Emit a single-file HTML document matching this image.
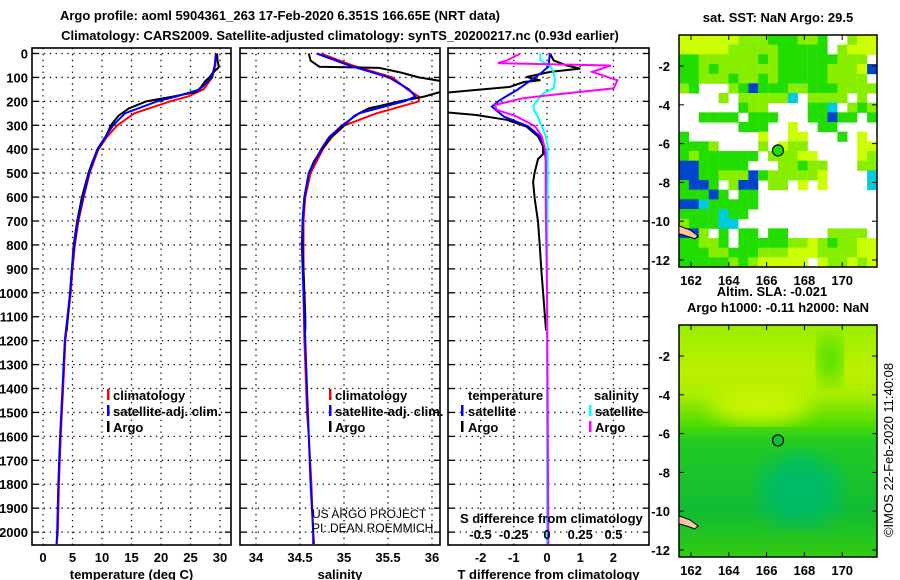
<!DOCTYPE html>
<html><head><meta charset="utf-8"><style>
html,body{margin:0;padding:0;background:#fff;width:900px;height:580px;overflow:hidden}
svg{display:block}
text{font-family:"Liberation Sans",sans-serif;font-weight:bold;font-size:13px;fill:#000}
</style></head><body>
<svg id="chart" width="900" height="580" viewBox="0 0 900 580">
<text x="280" y="20" text-anchor="middle" font-size="14">Argo profile: aoml 5904361_263 17-Feb-2020 6.351S 166.65E (NRT data)</text>
<text x="340" y="40" text-anchor="middle" font-size="14">Climatology: CARS2009. Satellite-adjusted climatology: synTS_20200217.nc (0.93d earlier)</text>
<g id="panels"></g>
<g id="maps"></g>
<text transform="translate(893,450) rotate(-90)" text-anchor="middle" font-size="12" font-weight="normal" style="font-weight:normal">©IMOS 22-Feb-2020 11:40:08</text>
</svg>
<script>
// ---- data ----
const depthTicks = [0,100,200,300,400,500,600,700,800,900,1000,1100,1200,1300,1400,1500,1600,1700,1800,1900,2000];
const tempTicks = [0,5,10,15,20,25,30];
const salTicks = [34,34.5,35,35.5,36];
const tdiffTicks = [-2,-1,0,1,2];
const sdiffTicks = [-0.5,-0.25,0,0.25,0.5];
const sdiffLabels = ["-0.5","-0.25","0","0.25","0.5"];

const climDepth = [0,50,100,150,180,200,250,300,350,400,500,600,700,800,900,1000,1200,1400,1500,1600,1800,2000,2050];
const tempClim = [29.4,29.2,28.7,27.2,24.5,21.5,15.5,12.6,10.8,9.4,7.9,6.9,6.0,5.4,5.0,4.7,3.8,3.4,3.2,3.0,2.7,2.5,2.3];
const tempSat  = [29.3,29.1,28.6,26.6,22.5,19.3,13.9,11.9,10.5,9.2,7.8,6.8,5.9,5.3,4.9,4.6,3.7,3.3,3.1,2.9,2.6,2.4,2.3];
const salClim  = [34.74,35.1,35.55,35.72,35.85,35.85,35.37,35.01,34.86,34.76,34.62,34.56,34.54,34.54,34.54,34.54,34.55,34.57,34.58,34.6,34.63,34.65,34.66];
const salSat   = [34.69,35.06,35.51,35.74,35.81,35.68,35.17,34.98,34.83,34.74,34.6,34.55,34.53,34.52,34.53,34.54,34.56,34.58,34.59,34.6,34.62,34.65,34.65];

const argoDepth = [0,30,55,60,80,100,115,140,160,180,200,230,260,300,350,400,450,500,600,700,800,900,1000,1100,1160];
const tempArgo  = [29.5,29.6,29.8,29.7,28.8,28.2,27.5,26.8,26,22,17.5,14.5,12.8,11.5,10.6,9.3,8.4,7.7,6.6,5.8,5.2,4.9,4.6,4.2,4.0];
const salArgo   = [34.6,34.62,34.72,35.4,35.65,35.85,36.1,36.3,36.1,35.91,35.63,35.28,35.12,35.0,34.85,34.75,34.66,34.6,34.55,34.53,34.53,34.54,34.55,34.56,34.56];

const tdDepth = [0,29,50,63,77,98,112,119,140,153,167,243,257,277,305,346,387,421,441,496,537,606,702,799,909,1047,1157];
const tdArgo  = [0.09,0.2,0.6,1.0,0.1,-0.62,-0.2,-0.7,-1.13,-2.2,-3.3,-3.3,-2.13,-1.22,-0.62,-0.27,-0.12,-0.12,-0.27,-0.37,-0.42,-0.37,-0.27,-0.22,-0.17,-0.09,-0.03];
const tdsDepth = [0,55,84,153,194,222,263,305,346,387,496,1000,2050];
const tdSat    = [0.09,0.04,-0.2,-0.91,-1.41,-1.66,-1.31,-0.56,-0.22,-0.08,0,0,0];
const sdDepth  = [0,29,40,50,77,112,146,174,187,215,235,263,304,346,387,413,600,1000,1500,2050];
const sdArgo   = [-0.2,-0.3,-0.37,0.48,0.34,0.53,0.5,0.02,-0.18,-0.39,-0.38,-0.23,-0.09,-0.04,-0.02,-0.01,-0.01,0,0.005,0.01];
const sdsDepth = [0,29,50,77,112,146,167,187,215,235,263,304,346,387,500,1000,2050];
const sdSat    = [-0.05,-0.05,0.02,0.05,0.06,0.05,-0.03,-0.06,-0.1,-0.1,-0.07,-0.04,-0.01,0.005,0.005,0,0];

// ---- helpers ----
const NS = "http://www.w3.org/2000/svg";
const panelsG = document.getElementById('panels');
const Y0 = 53.5, YS = 0.2393, YTOP = 48, YBOT = 545;
function yD(d){ return Y0 + d*YS; }
function mk(tag, parent){ const e = document.createElementNS(NS, tag); parent.appendChild(e); return e; }
const xT = v => 43 + v*5.9;
const xS = v => 256 + (v-34)*88;
const xTd = v => 547 + v*33.2;
const xSd = v => 547 + v*133;

function frame(x0, x1, name, xticks, xfn, labels, title, showDepth){
  const g = mk('g', panelsG);
  
  
  const cp = mk('clipPath', g); cp.setAttribute('id', 'clip-' + name);
  const cr = mk('rect', cp); cr.setAttribute('x', x0); cr.setAttribute('y', YTOP); cr.setAttribute('width', x1-x0); cr.setAttribute('height', YBOT-YTOP);
  depthTicks.forEach(d => {
    const l = mk('line', g);
    
    
    l.setAttribute('x1', x0); l.setAttribute('x2', x1); l.setAttribute('y1', yD(d)); l.setAttribute('y2', yD(d));
    l.setAttribute('stroke', '#000'); l.setAttribute('stroke-width', 1.3); l.setAttribute('stroke-dasharray', '1.3 4.6');
    [[x0, x0+6],[x1-6, x1]].forEach(p => { const t = mk('line', g); t.setAttribute('x1',p[0]); t.setAttribute('x2',p[1]); t.setAttribute('y1',yD(d)); t.setAttribute('y2',yD(d)); t.setAttribute('stroke','#000'); t.setAttribute('stroke-width',1.3); });
    if (showDepth){
      const t = mk('text', g);
      
      
      t.setAttribute('x', 28); t.setAttribute('y', yD(d)+5); t.setAttribute('text-anchor', 'end'); t.textContent = d;
    }
  });
  xticks.forEach((v, i) => {
    const x = xfn(v);
    const l = mk('line', g);
    
    
    l.setAttribute('x1', x); l.setAttribute('x2', x); l.setAttribute('y1', YTOP); l.setAttribute('y2', YBOT);
    l.setAttribute('stroke', '#000'); l.setAttribute('stroke-width', 1.3); l.setAttribute('stroke-dasharray', '1.3 4.6');
    const t = mk('text', g);
    
    
    t.setAttribute('x', x); t.setAttribute('y', 562); t.setAttribute('text-anchor', 'middle'); t.textContent = labels[i];
  });
  const r = mk('rect', g);
  r.setAttribute('x', x0); r.setAttribute('y', YTOP); r.setAttribute('width', x1-x0); r.setAttribute('height', YBOT-YTOP);
  r.setAttribute('fill', 'none'); r.setAttribute('stroke', '#000'); r.setAttribute('stroke-width', 1.6);
  const at = mk('text', g);
  
  
  at.setAttribute('x', (x0+x1)/2); at.setAttribute('y', 579); at.setAttribute('text-anchor', 'middle'); at.textContent = title;
  return g;
}
function line(g, clipName, depths, vals, xfn, color, w, name){
  const p = mk('polyline', g);
  
  
  p.setAttribute('points', depths.map((d,i) => xfn(vals[i]).toFixed(1) + ',' + yD(d).toFixed(1)).join(' '));
  p.setAttribute('fill', 'none'); p.setAttribute('stroke', color); p.setAttribute('stroke-width', w);
  p.setAttribute('clip-path', 'url(#clip-' + clipName + ')');
}
function txt(g, x, y, s, name, extra){
  const t = mk('text', g);
  
  
  t.setAttribute('x', x); t.setAttribute('y', y); t.textContent = s;
  if (extra) t.setAttribute('style', extra);
  return t;
}
function mark(g, x, y, color){
  const r = mk('rect', g);
  
  
  r.setAttribute('x', x); r.setAttribute('y', y-11); r.setAttribute('width', 2.5); r.setAttribute('height', 11); r.setAttribute('fill', color);
}

// Panel 1: temperature
const g1 = frame(32, 231, 'temperature-panel', tempTicks, xT, tempTicks.map(String), 'temperature (deg C)', true);
line(g1, 'temperature-panel', climDepth, tempClim, xT, '#f00', 2, 'temp-climatology-line');
line(g1, 'temperature-panel', argoDepth, tempArgo, xT, '#000', 2, 'temp-argo-line');
line(g1, 'temperature-panel', climDepth, tempSat, xT, '#00f', 2, 'temp-satellite-line');
mark(g1, 107, 400, '#f00'); txt(g1, 113, 400, 'climatology', 'legend-climatology');
mark(g1, 107, 416, '#00f'); txt(g1, 113, 416, 'satellite-adj. clim.', 'legend-satellite');
mark(g1, 107, 432, '#000'); txt(g1, 113, 432, 'Argo', 'legend-argo');

// Panel 2: salinity
const g2 = frame(240, 440, 'salinity-panel', salTicks, xS, salTicks.map(String), 'salinity', false);
line(g2, 'salinity-panel', climDepth, salClim, xS, '#f00', 2, 'sal-climatology-line');
line(g2, 'salinity-panel', argoDepth, salArgo, xS, '#000', 2, 'sal-argo-line');
line(g2, 'salinity-panel', climDepth, salSat, xS, '#00f', 2, 'sal-satellite-line');
mark(g2, 329, 400, '#f00'); txt(g2, 335, 400, 'climatology', 'legend-climatology');
mark(g2, 329, 416, '#00f'); txt(g2, 335, 416, 'satellite-adj. clim.', 'legend-satellite');
mark(g2, 329, 432, '#000'); txt(g2, 335, 432, 'Argo', 'legend-argo');
txt(g2, 312, 518, 'US ARGO PROJECT', 'project-credit', 'font-weight:normal;font-size:12px');
txt(g2, 312, 532, 'PI: DEAN ROEMMICH', 'pi-credit', 'font-weight:normal;font-size:12px');

// Panel 3: differences
const g3 = frame(448, 649, 'difference-panel', tdiffTicks, xTd, tdiffTicks.map(String), 'T difference from climatology', false);
line(g3, 'difference-panel', tdDepth, tdArgo, xTd, '#000', 2, 'tdiff-argo-line');
line(g3, 'difference-panel', tdsDepth, tdSat, xTd, '#00f', 2, 'tdiff-satellite-line');
line(g3, 'difference-panel', sdsDepth, sdSat, xSd, '#0ff', 2, 'sdiff-satellite-line');
line(g3, 'difference-panel', sdDepth, sdArgo, xSd, '#f0f', 2, 'sdiff-argo-line');
txt(g3, 468, 400, 'temperature', 'legend-temperature-heading');
txt(g3, 594, 400, 'salinity', 'legend-salinity-heading');
mark(g3, 461, 416, '#00f'); txt(g3, 468, 416, 'satellite', 'legend-t-satellite');
mark(g3, 461, 432, '#000'); txt(g3, 468, 432, 'Argo', 'legend-t-argo');
mark(g3, 589, 416, '#0ff'); txt(g3, 595, 416, 'satellite', 'legend-s-satellite');
mark(g3, 589, 432, '#f0f'); txt(g3, 595, 432, 'Argo', 'legend-s-argo');
txt(g3, 460, 523, 'S difference from climatology', 's-diff-axis-title');
sdiffTicks.forEach((v, i) => {
  const t = txt(g3, xSd(v), 539, sdiffLabels[i], 's-diff-tick-label');
  t.setAttribute('text-anchor', 'middle');
});

// ---- maps ----
const mapsG = document.getElementById('maps');
const lonTicks = [162,164,166,168,170];
const latTicks = [-2,-4,-6,-8,-10,-12];
const xLon = v => 691 + (v-162)*18.9;
function drawMap(y0, latY, name, title, bodyFn, titleLines){
  const g = mk('g', mapsG);
  
  
  bodyFn(g);
  const r = mk('rect', g);
  r.setAttribute('x', 679); r.setAttribute('y', y0); r.setAttribute('width', 198); r.setAttribute('height', 232);
  r.setAttribute('fill', 'none'); r.setAttribute('stroke', '#000'); r.setAttribute('stroke-width', 1.5);
  latTicks.forEach(v => {
    const y = latY(v);
    const t = txt(g, 670, y+5, String(v), 'lat-tick-label'); t.setAttribute('text-anchor', 'end');
    [[679,684],[872,877]].forEach(p => { const l = mk('line', g); l.setAttribute('x1',p[0]); l.setAttribute('x2',p[1]); l.setAttribute('y1',y); l.setAttribute('y2',y); l.setAttribute('stroke','#000'); });
  });
  lonTicks.forEach(v => {
    const x = xLon(v);
    const t = txt(g, x, y0+250, String(v), 'lon-tick-label'); t.setAttribute('text-anchor', 'middle');
    [[y0, y0+5],[y0+227, y0+232]].forEach(p => { const l = mk('line', g); l.setAttribute('x1',x); l.setAttribute('x2',x); l.setAttribute('y1',p[0]); l.setAttribute('y2',p[1]); l.setAttribute('stroke','#000'); });
  });
  const c = mk('circle', g);
  
  
  c.setAttribute('cx', 778); c.setAttribute('cy', latY(-6.35)); c.setAttribute('r', 5.5);
  c.setAttribute('fill', name === 'sst-map' ? '#22dd00' : '#11bb33'); c.setAttribute('stroke', '#000'); c.setAttribute('stroke-width', 1.2);
  const land = mk('path', g);
  
  
  const ly = latY(-10.5);
  land.setAttribute('d', `M679 ${ly-5} L690 ${ly-1} L698 ${ly+5} L695 ${ly+8} L683 ${ly+4} L679 ${ly+3} Z`);
  land.setAttribute('fill', '#fac8a0'); land.setAttribute('stroke', '#000'); land.setAttribute('stroke-width', 1);
}
const sstRows = [
 "yyyyyylllgggllg..lyy","yyyyylllllggggg.lyyy","ggllllllglgggggglll.","gglgllllllggggglllyb",
 "gglllgllglgggggllll.","lg...lgbgggllgggllll","....l.lllllc.llll.l.","......gll....ggc.lgl",
 "..gggg.ggg...ggbgg.g","......ggg..y..gg....","g.......y..yy...g.y.","gggl....l.yll.....yy",
 "glgggggg.lllyy....yl","bbggggg...llgll...ll","bbgglllbgllllly....c","gbbg.lbb.ll.y.y....c",
 "gggbg.gg............","bbcggggg............","ggggcgg.............","lgggcc..............",
 "bbl.g.gg.gg....llll.","ggllg.gggggllylgllyy","gggllggglllyyyllllyy","ggggglglyyyyy.yllyly"];
const sstCol = {y:'#ccff00', l:'#88ee00', g:'#22dd00', b:'#0044cc', c:'#00ccdd'};
drawMap(35, v => 66 + (-2-v)*19.4, 'sst-map', '', g => {
  const ch = 232/sstRows.length;
  sstRows.forEach((row, r) => { for (let c = 0; c < row.length; c++) { const k = row[c]; if (sstCol[k]) { const e = mk('rect', g); e.setAttribute('x', 679 + c*9.9); e.setAttribute('y', 35 + r*ch); e.setAttribute('width', 10); e.setAttribute('height', ch+0.5); e.setAttribute('fill', sstCol[k]); } } });
});
drawMap(325, v => 356 + (-2-v)*19.4, 'sla-map', '', g => {
  const defs = mk('defs', g);
  defs.innerHTML = '<linearGradient id="slag" x1="0" y1="0" x2="0" y2="1"><stop offset="0" stop-color="#99ee00"/><stop offset="0.2" stop-color="#bbf000"/><stop offset="0.3" stop-color="#aaee00"/><stop offset="0.42" stop-color="#55dd00"/><stop offset="0.5" stop-color="#22cc22"/><stop offset="0.8" stop-color="#11bb33"/><stop offset="1" stop-color="#33cc11"/></linearGradient><filter id="bl"><feGaussianBlur stdDeviation="10"/></filter>';
  const r = mk('rect', g); r.setAttribute('x', 679); r.setAttribute('y', 325); r.setAttribute('width', 198); r.setAttribute('height', 232); r.setAttribute('fill', 'url(#slag)');
  const e1 = mk('ellipse', g); e1.setAttribute('cx', 800); e1.setAttribute('cy', 490); e1.setAttribute('rx', 40); e1.setAttribute('ry', 35); e1.setAttribute('fill', '#00bb66'); e1.setAttribute('filter', 'url(#bl)');
  const e2 = mk('ellipse', g); e2.setAttribute('cx', 830); e2.setAttribute('cy', 360); e2.setAttribute('rx', 12); e2.setAttribute('ry', 25); e2.setAttribute('fill', '#44dd00'); e2.setAttribute('filter', 'url(#bl)');
  const e3 = mk('ellipse', g); e3.setAttribute('cx', 760); e3.setAttribute('cy', 405); e3.setAttribute('rx', 50); e3.setAttribute('ry', 18); e3.setAttribute('fill', '#ccf500'); e3.setAttribute('filter', 'url(#bl)');
});
txt(mapsG, 778, 22, 'sat. SST: NaN Argo: 29.5', 'sst-map-title').setAttribute('text-anchor', 'middle');
txt(mapsG, 772, 296, 'Altim. SLA: -0.021', 'sla-title').setAttribute('text-anchor', 'middle');
txt(mapsG, 778, 312, 'Argo h1000: -0.11 h2000: NaN', 'sla-map-title').setAttribute('text-anchor', 'middle');
</script>
</body></html>
